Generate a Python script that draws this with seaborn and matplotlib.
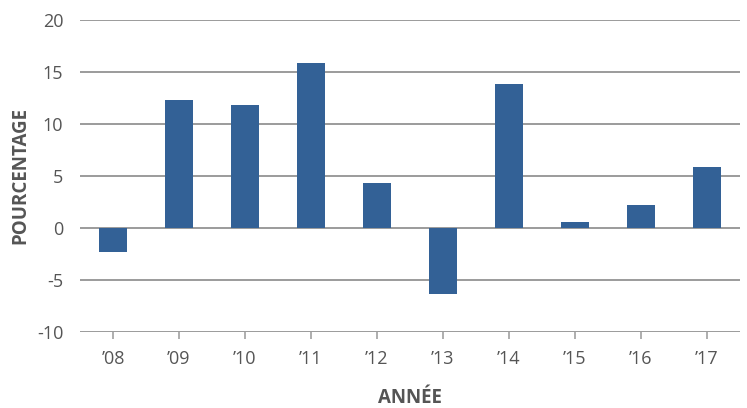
# Annual percentage change, 2008-2017
import pandas as pd
import matplotlib
matplotlib.use("Agg")
import matplotlib.pyplot as plt
import seaborn as sns

# ------------------------------------------
# Data
# ------------------------------------------
years = ["\u201908", "\u201909", "\u201910", "\u201911", "\u201912",
         "\u201913", "\u201914", "\u201915", "\u201916", "\u201917"]
values = [-2.3, 12.3, 11.8, 15.9, 4.3, -6.3, 13.8, 0.6, 2.2, 5.9]

data = pd.DataFrame({"year": years, "value": values})

# ------------------------------------------
# Plot
# ------------------------------------------
sns.set_theme(style="white")
plt.rcParams["font.family"] = ["Open Sans", "DejaVu Sans"]
plt.rcParams["axes.unicode_minus"] = False

fig = plt.figure(figsize=(7.47, 4.08), dpi=100)
ax = fig.add_axes([80 / 747, 1 - 332 / 408, 660 / 747, 312 / 408])

ax.set_axisbelow(True)
ax.yaxis.grid(True, color="#808080", linewidth=1.1)

sns.barplot(data=data, x="year", y="value", color="#336196",
            saturation=1, width=0.41, linewidth=0, ax=ax)

ax.set_ylim(-10, 20)
ax.set_yticks([-10, -5, 0, 5, 10, 15, 20])
ax.set_xlim(-0.5, 9.5)

for side in ["top", "right", "left", "bottom"]:
    ax.spines[side].set_visible(False)

ax.tick_params(axis="y", length=0, pad=12, labelsize=13, labelcolor="#555555")
ax.tick_params(axis="x", length=5, width=1.1, color="#999999", pad=8,
               labelsize=13, labelcolor="#555555", bottom=True)

ax.set_xlabel("ANNÉE", fontsize=13.5, fontweight="bold", color="#555555", va="center")
ax.set_ylabel("POURCENTAGE", fontsize=13.5, fontweight="bold", color="#555555", va="center")
ax.xaxis.set_label_coords(0.5, (332 - 398) / 312)
ax.yaxis.set_label_coords((20 - 80) / 660, 0.5)

fig.savefig("out.png", dpi=100)
